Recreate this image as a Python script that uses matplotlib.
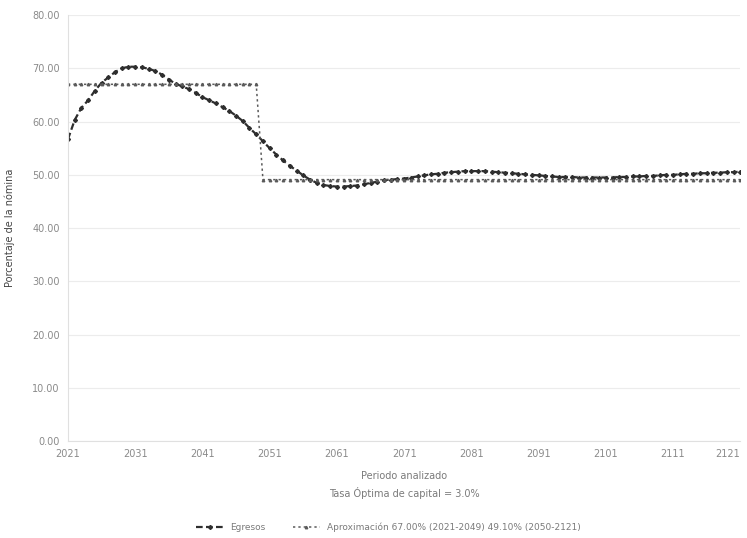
import matplotlib
matplotlib.use("Agg")
import matplotlib.pyplot as plt
import numpy as np

years = list(range(2021, 2122))
egresos = [56.7, 60.3, 62.6, 64.0, 65.8, 67.3, 68.3, 69.3, 70.0, 70.3,
           70.3, 70.2, 69.9, 69.5, 68.8, 67.9, 67.1, 66.6, 66.1, 65.4,
           64.6, 64.0, 63.4, 62.7, 62.0, 61.1, 60.1, 58.8, 57.6, 56.3,
           55.0, 53.8, 52.7, 51.7, 50.8, 49.9, 49.1, 48.5, 48.1, 47.9,
           47.8, 47.8, 47.9, 48.0, 48.2, 48.5, 48.7, 49.0, 49.1, 49.2,
           49.3, 49.5, 49.7, 49.9, 50.1, 50.2, 50.4, 50.5, 50.6, 50.7,
           50.7, 50.7, 50.7, 50.6, 50.5, 50.4, 50.3, 50.2, 50.1, 50.0,
           49.9, 49.8, 49.7, 49.6, 49.6, 49.6, 49.5, 49.5, 49.5, 49.5,
           49.5, 49.5, 49.6, 49.6, 49.7, 49.7, 49.8, 49.8, 49.9, 50.0,
           50.0, 50.1, 50.2, 50.2, 50.3, 50.3, 50.4, 50.4, 50.5, 50.5,
           50.6]
level_1 = 67.0
level_2 = 49.1
n_level_1 = 29
aproximacion = [level_1] * n_level_1 + [level_2] * (len(years) - n_level_1)

yticks = [0, 10, 20, 30, 40, 50, 60, 70, 80]
xtick_labels = [str(y) for y in range(2021, 2122, 10)]

fig = plt.figure(figsize=(7.47, 5.38), dpi=100)
ax = fig.add_axes([0.091, 0.180, 0.900, 0.792])

x = np.arange(len(years))
ax.plot(x, egresos, color="#2e2e2e", linestyle=(0, (3, 1.5)), linewidth=1.6,
        marker="D", markersize=2.0, label="Egresos")
ax.plot(x, aproximacion, color="#5a5a5a", linestyle=(0, (1.5, 2)), linewidth=1.1,
        marker="^", markersize=1.8,
        label="Aproximación 67.00% (2021-2049) 49.10% (2050-2121)")

ax.set_ylim(0, 80)
ax.set_xlim(0, len(years) - 1)
ax.set_yticks(yticks)
ax.set_yticklabels([f"{v:.2f}" for v in yticks], color="#8a8a8a", fontsize=7)
ax.set_xticks(x[::10])
ax.set_xticklabels(xtick_labels, color="#8a8a8a", fontsize=7)
ax.get_xticklabels()[-1].set_horizontalalignment("right")
ax.tick_params(length=0, pad=6)
ax.grid(axis="y", color="#ececec", linewidth=0.8)
ax.set_axisbelow(True)
for s in ["top", "right"]:
    ax.spines[s].set_visible(False)
ax.spines["left"].set_color("#e0e0e0")
ax.spines["bottom"].set_color("#e0e0e0")

ax.set_xlabel("Periodo analizado\nTasa Óptima de capital = 3.0%", color="#7a7a7a",
              fontsize=7, labelpad=8, linespacing=1.6)
ax.set_ylabel("Porcentaje de la nómina", color="#444444", fontsize=7, labelpad=12)

fig.legend(loc="center", bbox_to_anchor=(0.52, 0.02), ncol=2, frameon=False,
           fontsize=6.5, labelcolor="#7a7a7a", handlelength=3, columnspacing=3)

fig.savefig("out.png", dpi=100)
